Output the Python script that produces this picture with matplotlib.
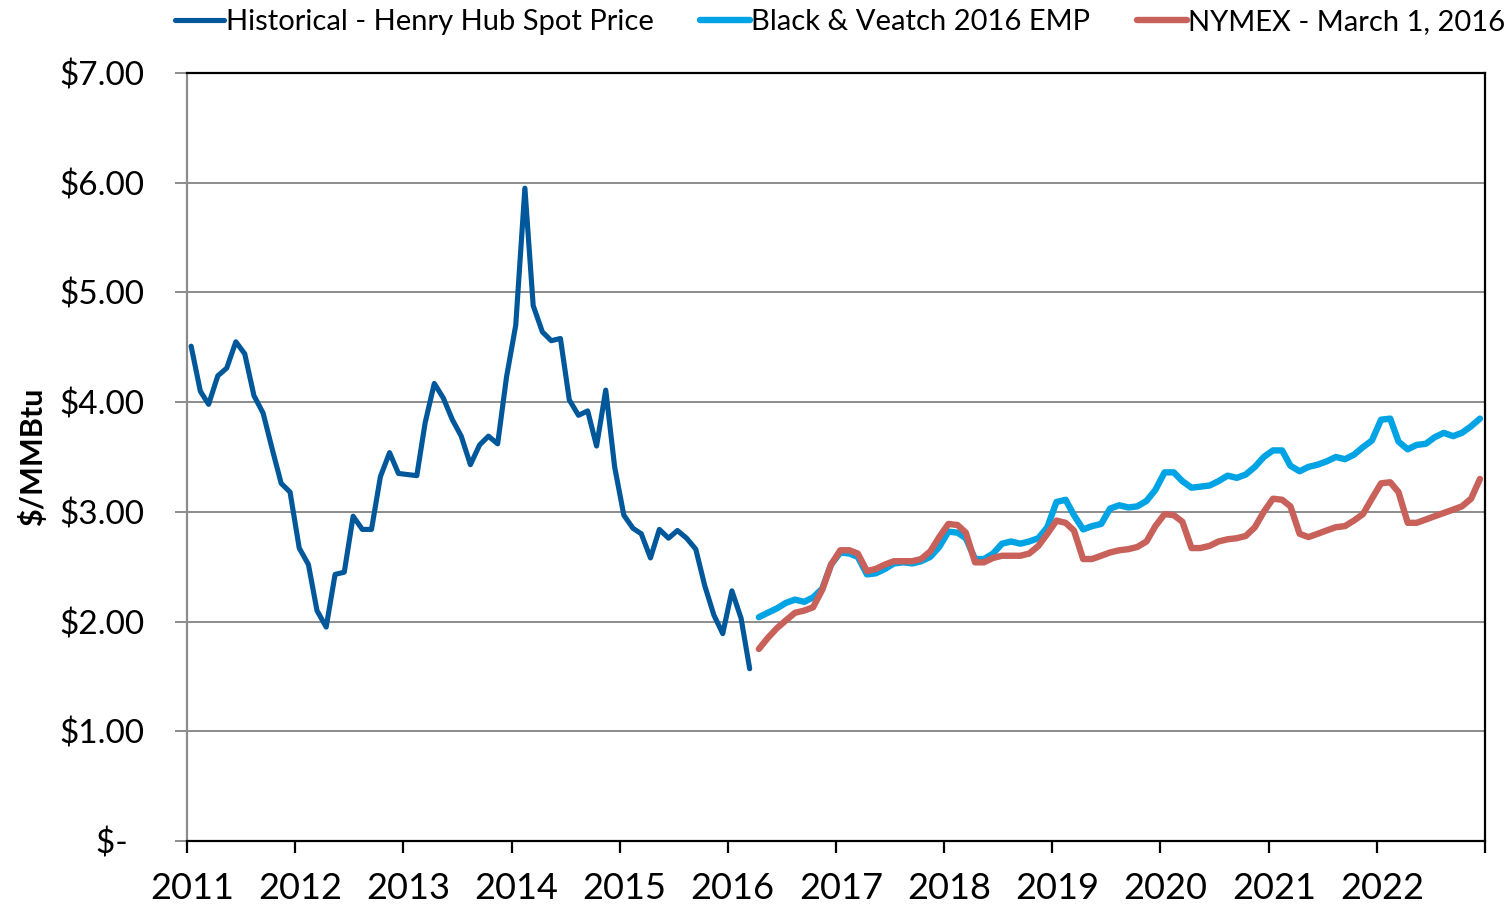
import matplotlib
matplotlib.use("Agg")
import matplotlib.pyplot as plt
import matplotlib.dates as mdates
import matplotlib.transforms as mtransforms
import pandas as pd
from matplotlib.ticker import FuncFormatter, FixedLocator

# ---------------- data ----------------
hist_start = "2011-01"
historical = [4.51, 4.10, 3.98, 4.24, 4.31, 4.55, 4.44, 4.06, 3.90, 3.58, 3.26, 3.18,
              2.67, 2.52, 2.10, 1.95, 2.43, 2.45, 2.96, 2.84, 2.84, 3.32, 3.54, 3.35,
              3.34, 3.33, 3.81, 4.17, 4.04, 3.84, 3.69, 3.43, 3.61, 3.69, 3.62, 4.23,
              4.70, 5.95, 4.88, 4.64, 4.56, 4.58, 4.02, 3.88, 3.92, 3.60, 4.11, 3.41,
              2.97, 2.85, 2.80, 2.58, 2.84, 2.76, 2.83, 2.76, 2.66, 2.33, 2.06, 1.89,
              2.28, 2.03, 1.57]

fcst_start = "2016-04"
bv_emp = [2.04, 2.08, 2.12, 2.17, 2.20, 2.18, 2.22, 2.30, 2.52,
          2.63, 2.62, 2.59, 2.43, 2.44, 2.48, 2.53, 2.54, 2.53, 2.55, 2.59, 2.68,
          2.82, 2.81, 2.76, 2.57, 2.57, 2.62, 2.71, 2.73, 2.71, 2.73, 2.76, 2.86,
          3.09, 3.11, 2.97, 2.84, 2.87, 2.89, 3.03, 3.06, 3.04, 3.05, 3.10, 3.20,
          3.36, 3.36, 3.28, 3.22, 3.23, 3.24, 3.28, 3.33, 3.31, 3.34, 3.41, 3.50,
          3.56, 3.56, 3.42, 3.37, 3.41, 3.43, 3.46, 3.50, 3.48, 3.52, 3.59, 3.65,
          3.84, 3.85, 3.64, 3.57, 3.61, 3.62, 3.68, 3.72, 3.69, 3.72, 3.78, 3.85]

nymex = [1.75, 1.85, 1.94, 2.01, 2.08, 2.10, 2.13, 2.29, 2.52,
         2.65, 2.65, 2.62, 2.46, 2.48, 2.52, 2.55, 2.55, 2.55, 2.57, 2.64, 2.77,
         2.89, 2.88, 2.81, 2.54, 2.54, 2.58, 2.60, 2.60, 2.60, 2.62, 2.69, 2.80,
         2.92, 2.90, 2.83, 2.57, 2.57, 2.60, 2.63, 2.65, 2.66, 2.68, 2.73, 2.87,
         2.98, 2.97, 2.91, 2.67, 2.67, 2.69, 2.73, 2.75, 2.76, 2.78, 2.86, 3.00,
         3.12, 3.11, 3.05, 2.80, 2.77, 2.80, 2.83, 2.86, 2.87, 2.92, 2.98, 3.12,
         3.26, 3.27, 3.18, 2.90, 2.90, 2.93, 2.96, 2.99, 3.02, 3.05, 3.12, 3.30]

series_labels = ["Historical - Henry Hub Spot Price", "Black & Veatch 2016 EMP",
                 "NYMEX - March 1, 2016"]
year_ticks = list(range(2011, 2024))
y_ticks = [0, 1, 2, 3, 4, 5, 6, 7]

# mid-month dates
hist_dates = pd.date_range(hist_start, periods=len(historical), freq="MS") + pd.Timedelta(days=14)
fcst_dates = pd.date_range(fcst_start, periods=len(bv_emp), freq="MS") + pd.Timedelta(days=14)

# ---------------- figure ----------------
plt.rcParams['font.family'] = ['Lato', 'DejaVu Sans']
fig = plt.figure(figsize=(15.12, 9.13), dpi=100)
ax = fig.add_axes([187/1512, 1-841/913, (1485-187)/1512, (841-73)/913])

c_hist = "#00589B"
c_bv = "#00A3E4"
c_ny = "#C8615A"

ax.plot(hist_dates, historical, color=c_hist, lw=3.7, solid_capstyle="round",
        solid_joinstyle="round", label=series_labels[0], zorder=3)
ax.plot(fcst_dates, bv_emp, color=c_bv, lw=4.6, solid_capstyle="round",
        solid_joinstyle="round", label=series_labels[1], zorder=3)
ax.plot(fcst_dates, nymex, color=c_ny, lw=4.6, solid_capstyle="round",
        solid_joinstyle="round", label=series_labels[2], zorder=4)

ax.set_xlim(pd.Timestamp("2011-01-01"), pd.Timestamp("2023-01-01"))
ax.set_ylim(0, 7)

ax.xaxis.set_major_locator(FixedLocator([mdates.date2num(pd.Timestamp(f"{y}-01-01")) for y in year_ticks]))
tick_labels = [str(y) for y in year_ticks[:-1]] + [""]
ax.set_xticklabels(tick_labels)
ax.set_yticks(y_ticks)
ax.yaxis.set_major_formatter(FuncFormatter(lambda v, p: "$-  " if v == 0 else f"${v:.2f}"))

ax.grid(axis="y", color="#8C8C8C", lw=1.4, zorder=0)
ax.set_axisbelow(True)

for s in ["top", "right", "bottom"]:
    ax.spines[s].set_color("black")
    ax.spines[s].set_linewidth(1.6)
ax.spines["left"].set_color("#8C8C8C")
ax.spines["left"].set_linewidth(1.6)

ax.tick_params(axis="x", direction="out", length=8.6, width=1.6, color="black",
               labelsize=26, pad=14)
ax.tick_params(axis="y", direction="out", length=8.6, width=1.4, color="#8C8C8C",
               labelsize=24, pad=22)

offset = mtransforms.ScaledTranslation(5/100, 0, fig.dpi_scale_trans)
for lbl in ax.get_xticklabels():
    lbl.set_transform(lbl.get_transform() + offset)

ax.set_ylabel("$/MMBtu", fontsize=22, fontweight="bold", labelpad=9)

fig.legend(loc="upper center", bbox_to_anchor=(840/1512, 1.009), ncol=3, frameon=False,
           fontsize=21, handlelength=1.7, handletextpad=0.05, columnspacing=1.6,
           borderaxespad=0.2)

fig.savefig("out.png", dpi=100)
